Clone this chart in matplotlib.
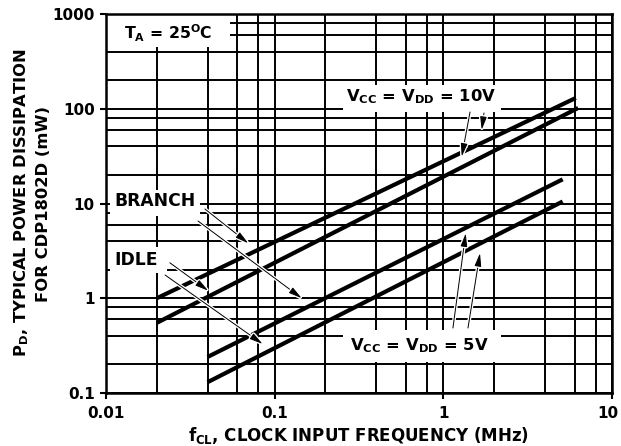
import numpy as np
import matplotlib
matplotlib.use("Agg")
import matplotlib.pyplot as plt
from matplotlib.ticker import LogLocator, NullFormatter
from matplotlib.patches import Rectangle
from matplotlib.transforms import ScaledTranslation
import matplotlib.patheffects as pe

plt.rcParams['font.family'] = ['DejaVu Sans']
plt.rcParams['font.weight'] = 'bold'
plt.rcParams['mathtext.fontset'] = 'dejavusans'

# curve end points (MHz, mW)
branch_10v_f = [0.02, 6.1]
branch_10v_p = [1.0, 130]
idle_10v_f = [0.02, 6.3]
idle_10v_p = [0.55, 102]
branch_5v_f = [0.04, 5.1]
branch_5v_p = [0.24, 18]
idle_5v_f = [0.04, 5.1]
idle_5v_p = [0.13, 10.5]

xticks = [0.01, 0.1, 1, 10]
xlabels = ['0.01', '0.1', '1', '10']
yticks = [0.1, 1, 10, 100, 1000]
ylabels = ['0.1', '1', '10', '100', '1000']

fig = plt.figure(figsize=(6.21, 4.46), dpi=100)
ax = fig.add_axes([0.1707, 0.1188, 0.8148, 0.8498])
ax.set_xscale('log')
ax.set_yscale('log')
ax.set_xlim(0.01, 10)
ax.set_ylim(0.1, 1000)

for a in (ax.xaxis, ax.yaxis):
    a.set_minor_locator(LogLocator(base=10, subs=(2, 4, 6, 8)))
    a.set_minor_formatter(NullFormatter())
ax.set_xticks(xticks, xlabels)
ax.set_yticks(yticks, ylabels)
ax.tick_params(which='major', direction='out', length=4, width=1.5,
               labelsize=11, color='black')
ax.tick_params(axis='x', which='major', pad=5)
ax.tick_params(axis='y', which='major', pad=4)
ax.tick_params(which='minor', length=0)
ax.set_axisbelow(True)
ax.grid(which='both', color='black', lw=1.4)
for s in ax.spines.values():
    s.set_linewidth(1.8)

# keep the "10" label inside the figure
last = ax.get_xticklabels()[-1]
last.set_transform(last.get_transform() + ScaledTranslation(-3 / 72, 0, fig.dpi_scale_trans))

# white boxes behind labels (axes fraction)
boxes = [(0.0, 0.913, 0.245, 0.087),   # T_A
         (0.008, 0.467, 0.178, 0.069),  # BRANCH
         (0.008, 0.317, 0.112, 0.069),  # IDLE
         (0.469, 0.742, 0.311, 0.071),  # 10V
         (0.469, 0.082, 0.311, 0.085)]  # 5V
for (bx, by, bw, bh) in boxes:
    ax.add_patch(Rectangle((bx, by), bw, bh, transform=ax.transAxes,
                           facecolor='white', edgecolor='none', zorder=1))

for f, p in [(branch_10v_f, branch_10v_p), (idle_10v_f, idle_10v_p),
             (branch_5v_f, branch_5v_p), (idle_5v_f, idle_5v_p)]:
    ax.plot(f, p, color='black', lw=3.0, solid_capstyle='butt', zorder=2)

ax.text(0.1225, 0.950, r'T$_\mathbf{A}$ = 25$^\mathbf{O}$C', transform=ax.transAxes,
        ha='center', va='center', fontsize=11.3, zorder=4)
ax.text(0.096, 0.507, 'BRANCH', transform=ax.transAxes,
        ha='center', va='center', fontsize=12.3, zorder=4)
ax.text(0.059, 0.350, 'IDLE', transform=ax.transAxes,
        ha='center', va='center', fontsize=12.3, zorder=4)
ax.text(0.622, 0.782, r'V$_\mathbf{CC}$ = V$_\mathbf{DD}$ = 10V', transform=ax.transAxes,
        ha='center', va='center', fontsize=11.8, zorder=4)
ax.text(0.620, 0.124, r'V$_\mathbf{CC}$ = V$_\mathbf{DD}$ = 5V', transform=ax.transAxes,
        ha='center', va='center', fontsize=11.8, zorder=4)

# arrows: (tail, head) in data coords
arrows = [((0.0386, 8.75), (0.0698, 3.80)),
          ((0.0351, 6.54), (0.1447, 1.00)),
          ((0.0239, 2.37), (0.0404, 1.20)),
          ((0.0224, 1.76), (0.0849, 0.329)),
          ((1.44, 92.4), (1.285, 31.2)),
          ((1.742, 90.2), (1.688, 59.7)),
          ((1.14, 0.485), (1.357, 4.85)),
          ((1.40, 0.485), (1.65, 3.0))]
for tail, head in arrows:
    ann = ax.annotate('', xy=head, xytext=tail, zorder=3,
                      arrowprops=dict(arrowstyle='-|>,head_length=0.8,head_width=0.2',
                                      color='black', lw=0.7,
                                      shrinkA=0, shrinkB=0))
    ann.arrow_patch.set_path_effects([pe.withStroke(linewidth=2.6, foreground='white')])

fig.text(0.578, 0.0245, r'f$_\mathbf{CL}$, CLOCK INPUT FREQUENCY (MHz)',
         ha='center', va='center', fontsize=12)
fig.text(0.0354, 0.545, r'P$_\mathbf{D}$, TYPICAL POWER DISSIPATION',
         ha='center', va='center', rotation=90, fontsize=11.8)
fig.text(0.0700, 0.543, 'FOR CDP1802D (mW)',
         ha='center', va='center', rotation=90, fontsize=11.8)

fig.savefig('out.png', dpi=100)
